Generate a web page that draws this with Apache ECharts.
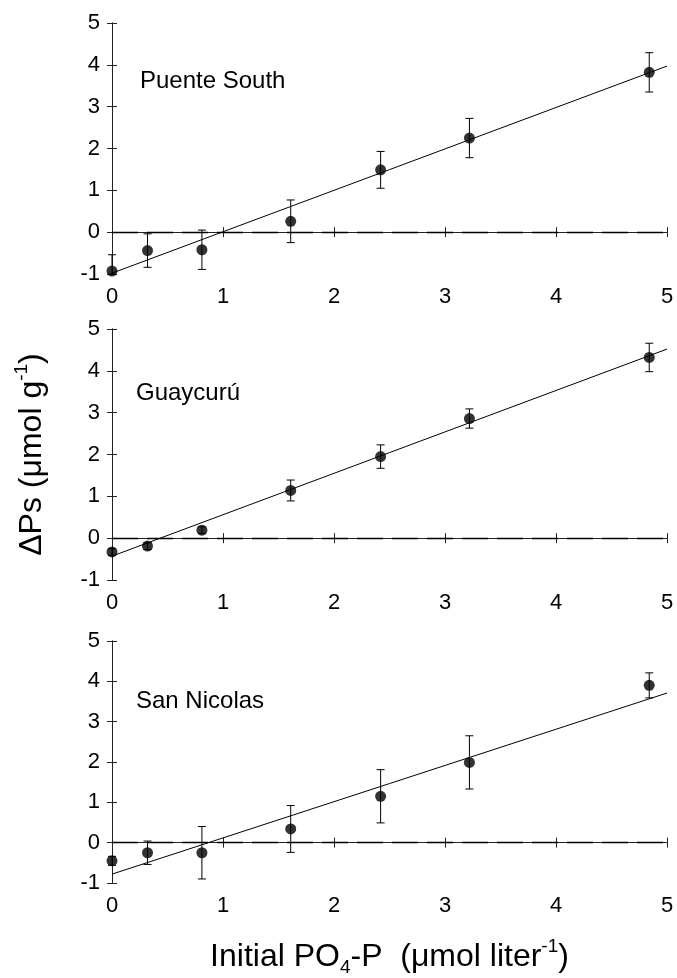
<!DOCTYPE html>
<html>
<head>
<meta charset="utf-8">
<script src="https://cdn.jsdelivr.net/npm/echarts@6/dist/echarts.min.js"></script>
<style>
html,body{margin:0;padding:0;background:#fff;}
#chart{width:677px;height:978px;}
</style>
</head>
<body>
<div id="chart"></div>
<script>
// ---- data ----
const xValues = [0, 0.32, 0.81, 1.61, 2.42, 3.22, 4.84];
const xTicks = [0, 1, 2, 3, 4, 5];
const yTicks = [-1, 0, 1, 2, 3, 4, 5];
const panelNames = ['Puente South', 'Guaycurú', 'San Nicolas'];

const puenteY   = [-0.93, -0.44, -0.42, 0.26, 1.49, 2.25, 3.82];
const puenteErr = [0.39, 0.40, 0.47, 0.51, 0.44, 0.47, 0.47];
const puenteFit = [[0, -0.98], [5, 3.97]];

const guayY   = [-0.33, -0.19, 0.19, 1.14, 1.95, 2.86, 4.32];
const guayErr = [0.08, 0.08, 0.08, 0.25, 0.28, 0.23, 0.34];
const guayFit = [[0, -0.43], [5, 4.52]];

const sanY   = [-0.45, -0.25, -0.25, 0.34, 1.15, 1.99, 3.90];
const sanErr = [0.11, 0.29, 0.65, 0.58, 0.66, 0.66, 0.31];
const sanFit = [[0, -0.78], [5, 3.71]];

const panels = [
  { y: puenteY, err: puenteErr, fit: puenteFit },
  { y: guayY, err: guayErr, fit: guayFit },
  { y: sanY, err: sanErr, fit: sanFit }
];

// ---- layout / style ----
const FONT = 'Liberation Sans, Arial, sans-serif';
const gridTops = [23, 329, 641];
const gridH = 251;
const labelTops = [69, 381, 689];
const labelLefts = [140, 136, 136];

const chart = echarts.init(document.getElementById('chart'), null, {renderer: 'canvas'});

const grids = [], xAxes = [], yAxes = [], series = [], graphics = [];

function errRender(params, api) {
  const x = api.value(0), y = api.value(1), e = api.value(2);
  const cs = params.coordSys;
  const p = api.coord([x, y]);
  let t = api.coord([x, y + e])[1];
  let b = api.coord([x, y - e])[1];
  const yMin = cs.y, yMax = cs.y + cs.height;
  t = Math.max(yMin, Math.min(yMax, t));
  b = Math.max(yMin, Math.min(yMax, b));
  const hw = 4;
  const st = {stroke: '#000', lineWidth: 1};
  return {
    type: 'group',
    children: [
      {type: 'line', shape: {x1: p[0], y1: t, x2: p[0], y2: b}, style: st},
      {type: 'line', shape: {x1: p[0] - hw, y1: t, x2: p[0] + hw, y2: t}, style: st},
      {type: 'line', shape: {x1: p[0] - hw, y1: b, x2: p[0] + hw, y2: b}, style: st}
    ]
  };
}

panels.forEach((pn, i) => {
  grids.push({left: 112, right: 10, top: gridTops[i], height: gridH, containLabel: false});
  const axLine = {show: true, lineStyle: {color: '#222', width: 1}};
  const tick = {show: true, inside: true, length: 5, lineStyle: {color: '#222', width: 1}};
  const xb = {
    type: 'value', gridIndex: i, min: xTicks[0], max: xTicks[xTicks.length - 1], interval: 1,
    position: 'bottom', axisLine: axLine, axisTick: tick, splitLine: {show: false},
    axisLabel: {color: '#000', fontSize: 22, fontFamily: FONT, margin: 12}
  };
  if (i === 2) {
    xb.name = '{n|Initial PO}{sub|4}{n|-P  (μmol liter}{sup|-1}{n|)}';
    xb.nameLocation = 'middle';
    xb.nameGap = 54;
    xb.nameTextStyle = {
      color: '#000', fontFamily: FONT, fontSize: 32,
      rich: {
        n: {fontSize: 32, fontFamily: FONT, color: '#000', lineHeight: 40, verticalAlign: 'middle'},
        sub: {fontSize: 19, fontFamily: FONT, color: '#000', lineHeight: 40, verticalAlign: 'bottom'},
        sup: {fontSize: 19, fontFamily: FONT, color: '#000', lineHeight: 40, verticalAlign: 'top'}
      }
    };
  }
  xAxes.push(xb);
  xAxes.push({
    type: 'value', gridIndex: i, min: 0, max: 5, interval: 1, position: 'top',
    axisLine: axLine, axisTick: tick, axisLabel: {show: false}, splitLine: {show: false}
  });
  const yl = {
    type: 'value', gridIndex: i, min: yTicks[0], max: yTicks[yTicks.length - 1], interval: 1,
    position: 'left', axisLine: axLine, axisTick: tick, splitLine: {show: false},
    axisLabel: {color: '#000', fontSize: 22, fontFamily: FONT, margin: 12}
  };
  if (i === 1) {
    yl.name = '{n|ΔPs (μmol g}{sup|-1}{n|)}';
    yl.nameLocation = 'middle';
    yl.nameGap = 60;
    yl.nameRotate = 90;
    yl.nameTextStyle = {
      color: '#000', fontFamily: FONT, fontSize: 32,
      rich: {
        n: {fontSize: 32, fontFamily: FONT, color: '#000', lineHeight: 40, verticalAlign: 'middle'},
        sup: {fontSize: 19, fontFamily: FONT, color: '#000', lineHeight: 40, verticalAlign: 'top'}
      }
    };
  }
  yAxes.push(yl);
  yAxes.push({
    type: 'value', gridIndex: i, min: -1, max: 5, interval: 1, position: 'right',
    axisLine: axLine, axisTick: tick, axisLabel: {show: false}, splitLine: {show: false}
  });

  const xi = i * 2, yi = i * 2;
  series.push({
    type: 'line', xAxisIndex: xi, yAxisIndex: yi, data: pn.fit,
    symbol: 'none', lineStyle: {color: '#000', width: 1}, silent: true, z: 3,
    markLine: {
      silent: true, symbol: 'none', label: {show: false},
      lineStyle: {color: '#000', width: 1.3, type: [26, 9]},
      data: [{yAxis: 0}]
    }
  });
  series.push({
    type: 'custom', xAxisIndex: xi, yAxisIndex: yi, renderItem: errRender,
    data: xValues.map((x, k) => [x, pn.y[k], pn.err[k]]), z: 4, silent: true
  });
  series.push({
    type: 'scatter', xAxisIndex: xi, yAxisIndex: yi, symbol: 'circle', symbolSize: 11,
    itemStyle: {color: '#000'}, data: xValues.map((x, k) => [x, pn.y[k]]), z: 5, silent: true
  });

  graphics.push({
    type: 'text', left: labelLefts[i], top: labelTops[i],
    style: {text: panelNames[i], fontSize: 24, fontFamily: FONT, fill: '#000'}
  });
});

chart.setOption({
  animation: false,
  backgroundColor: '#fff',
  grid: grids,
  xAxis: xAxes,
  yAxis: yAxes,
  series: series,
  graphic: graphics
});
</script>
</body>
</html>
